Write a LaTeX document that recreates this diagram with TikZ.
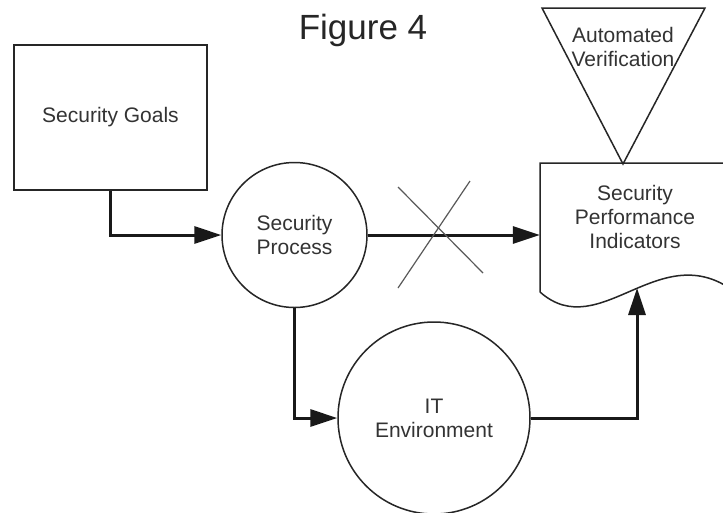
\documentclass[tikz,border=0pt]{standalone}
\usepackage{fontspec}
\setmainfont{Liberation Sans}
\usetikzlibrary{arrows.meta}
\begin{document}
\begin{tikzpicture}[x=1pt,y=-1pt,
  lbl/.style={font=\fontsize{21}{24}\selectfont, text=black!80, align=center},
  shp/.style={draw=black!85, line width=1.5pt},
  conn/.style={draw=black!90, line width=3pt, -{Triangle[length=27pt,width=17pt]}},
  crossline/.style={draw=black!65, line width=1.2pt}
]
\useasboundingbox (0,0) rectangle (723,512);
\clip (0,0) rectangle (723,512);
\fill[white] (0,0) rectangle (723,512);

\node[font=\fontsize{35}{38}\selectfont, text=black!85] (title) at (363,30) {Figure 4};

\node[shp, minimum width=193pt, minimum height=145pt, inner sep=0pt, lbl] (goals) at (110.5,117.5) {Security Goals};
\node[shp, circle, minimum size=145pt, inner sep=0pt, lbl] (sp) at (294.5,235) {Security\\Process};
\node[shp, circle, minimum size=192pt, inner sep=0pt, lbl] (it) at (434,418) {IT\\Environment};

% document shape
\node[minimum width=190pt, minimum height=129pt, inner sep=0pt] (doc) at (635,227.5) {};
\draw[shp] (540,292) -- (540,163) -- (735,163) -- (735,292)
  .. controls (660,235) and (600,345) .. (540,292);
\node[lbl] (spi) at (635,217) {Security\\Performance\\Indicators};

% triangle
\draw[shp, fill=white] (542,8) -- (705,8) -- (623,164) -- cycle;
\node[lbl] (av) at (623,47) {Automated\\Verification};

% connectors
\draw[conn] (goals.south) |- (sp.west);
\draw[conn] (sp.east) -- (sp.east -| doc.west);
\draw[conn] (sp.south) |- (it.west);
\coordinate (wv) at (637,288);
\draw[conn] (it.east) -| (wv);

% cross
\draw[crossline] (398,187) -- (483,273);
\draw[crossline] (398,288) -- (470,181);
\end{tikzpicture}
\end{document}
